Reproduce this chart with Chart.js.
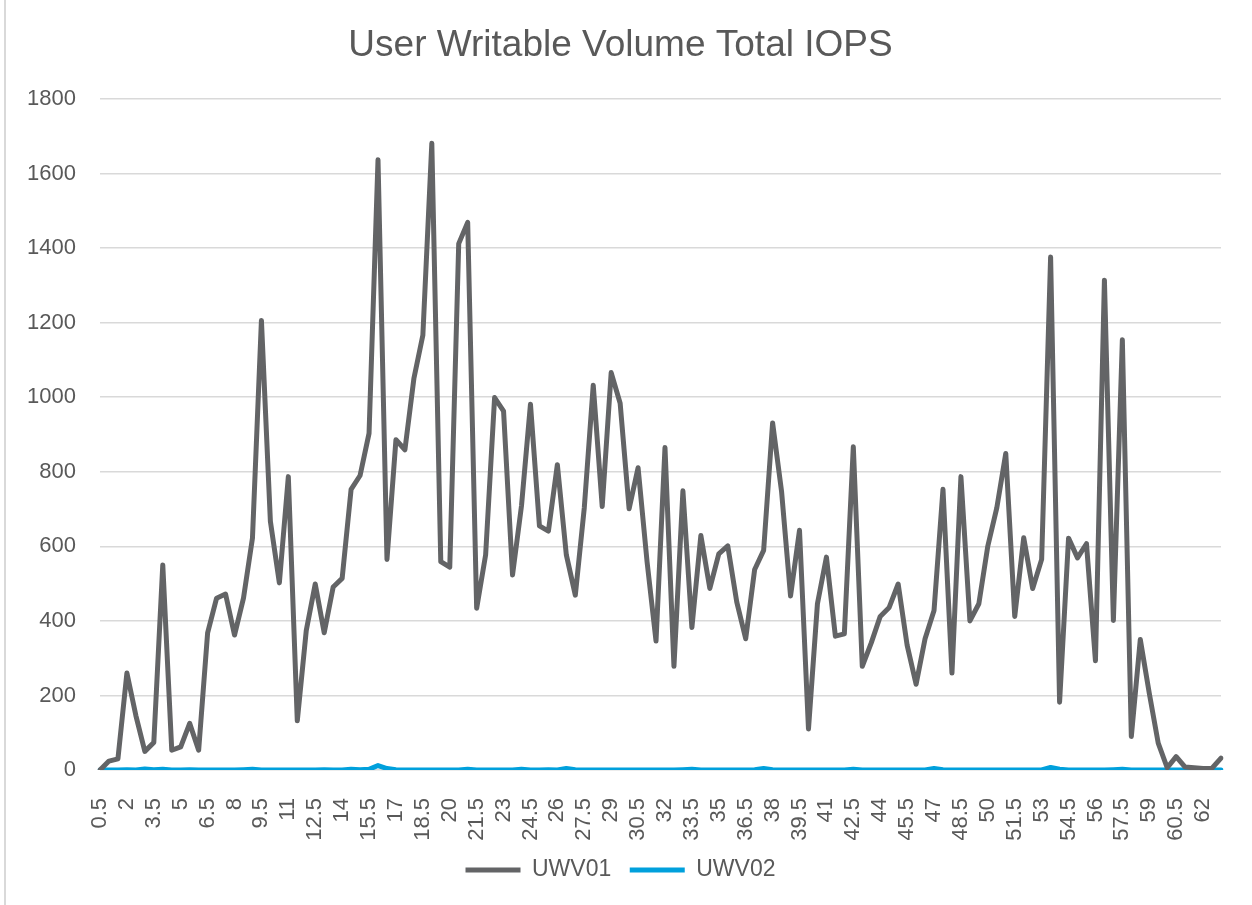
<!DOCTYPE html>
<html>
<head>
<meta charset="utf-8">
<title>User Writable Volume Total IOPS</title>
<script src="https://cdn.jsdelivr.net/npm/chart.js@4.4.1/dist/chart.umd.min.js"></script>
<style>
    html, body { margin: 0; padding: 0; background: #ffffff; }
    #wrap { position: relative; width: 1252px; height: 905px; }
    #frame { position: absolute; left: 4px; top: 0; width: 2px; height: 905px; background: #d9d9d9; }
</style>
</head>
<body>
<div id="wrap">
    <canvas id="lineChart" width="1252" height="905"></canvas>
    <div id="frame"></div>
</div>
<script>
// elapsed time (x categories)
const label_values = [
    '0.5','1','1.5','2','2.5','3','3.5','4','4.5','5',
    '5.5','6','6.5','7','7.5','8','8.5','9','9.5','10',
    '10.5','11','11.5','12','12.5','13','13.5','14','14.5','15',
    '15.5','16','16.5','17','17.5','18','18.5','19','19.5','20',
    '20.5','21','21.5','22','22.5','23','23.5','24','24.5','25',
    '25.5','26','26.5','27','27.5','28','28.5','29','29.5','30',
    '30.5','31','31.5','32','32.5','33','33.5','34','34.5','35',
    '35.5','36','36.5','37','37.5','38','38.5','39','39.5','40',
    '40.5','41','41.5','42','42.5','43','43.5','44','44.5','45',
    '45.5','46','46.5','47','47.5','48','48.5','49','49.5','50',
    '50.5','51','51.5','52','52.5','53','53.5','54','54.5','55',
    '55.5','56','56.5','57','57.5','58','58.5','59','59.5','60',
    '60.5','61','61.5','62','62.5','63'
];

const uwv01 = [
    0, 24, 30, 260, 146, 50, 74, 550, 53, 62,
    125, 53, 368, 461, 472, 362, 461, 622, 1206, 667,
    502, 787, 132, 374, 499, 368, 491, 514, 753, 790,
    903, 1637, 565, 886, 859, 1050, 1166, 1681, 559, 544,
    1412, 1469, 434, 577, 999, 963, 523, 709, 981, 655,
    641, 819, 577, 469, 703, 1032, 707, 1066, 984, 701,
    811, 559, 346, 865, 278, 749, 382, 629, 487, 580,
    601, 451, 352, 538, 589, 931, 747, 467, 643, 110,
    446, 571, 359, 365, 867, 278, 341, 412, 436, 499,
    335, 230, 352, 428, 753, 260, 787, 400, 446, 601,
    703, 849, 412, 623, 487, 565, 1376, 182, 622, 569,
    607, 293, 1314, 401, 1154, 90, 350, 206, 72, 6,
    36, 8, 6, 4, 5, 32
];

const uwv02 = [
    0, 0, 0, 1, 0, 3, 1, 2, 0, 0,
    1, 0, 0, 0, 0, 0, 1, 2, 0, 0,
    0, 0, 0, 0, 0, 1, 0, 0, 2, 1,
    2, 12, 4, 1, 0, 0, 0, 0, 0, 0,
    0, 2, 0, 0, 0, 0, 0, 2, 0, 0,
    1, 0, 4, 1, 0, 0, 0, 0, 0, 0,
    0, 0, 0, 0, 0, 1, 2, 0, 0, 0,
    0, 0, 0, 1, 4, 1, 0, 0, 0, 0,
    0, 0, 0, 0, 2, 0, 0, 0, 0, 0,
    0, 0, 0, 4, 1, 0, 0, 0, 0, 0,
    0, 0, 0, 0, 0, 0, 7, 2, 0, 0,
    0, 0, 0, 1, 2, 0, 0, 0, 0, 0,
    0, 0, 0, 0, 0, 0
];

const y_ticks = [0, 200, 400, 600, 800, 1000, 1200, 1400, 1600, 1800];

const font_family = "'Liberation Sans', Arial, sans-serif";
const text_color = '#595959';
const grid_color = '#d9d9d9';

function makeDataset(label, data, color) {
    return {
        label: label,
        data: data,
        borderColor: color,
        backgroundColor: color,
        borderWidth: 5,
        borderJoinStyle: 'round',
        borderCapStyle: 'round',
        pointRadius: 0,
        pointHoverRadius: 0,
        tension: 0,
        fill: false
    };
}

function lineChart(labels, result) {
    new Chart(document.getElementById('lineChart'), {
        type: 'line',
        data: {
            labels: labels,
            datasets: result
        },
        options: {
            responsive: false,
            animation: false,
            layout: {
                padding: { left: 20, right: 31, top: 0, bottom: 13.5 }
            },
            plugins: {
                title: {
                    display: true,
                    text: 'User Writable Volume Total IOPS',
                    color: text_color,
                    font: { family: font_family, size: 37, weight: 'normal' },
                    padding: { top: 24, bottom: 30.6 }
                },
                legend: {
                    position: 'bottom',
                    labels: {
                        color: text_color,
                        font: { family: font_family, size: 23 },
                        usePointStyle: true,
                        pointStyle: 'line',
                        pointStyleWidth: 55,
                        padding: 18.5
                    }
                },
                tooltip: { enabled: false }
            },
            scales: {
                x: {
                    offset: false,
                    grid: { display: false },
                    border: { display: false },
                    ticks: {
                        autoSkip: false,
                        minRotation: 90,
                        maxRotation: 90,
                        padding: 20,
                        color: text_color,
                        font: { family: font_family, size: 22 },
                        callback: function(value, index) {
                            return index % 3 === 0 ? labels[index] : '';
                        }
                    },
                    afterFit: function(scale) {
                        scale.height = 70;
                        scale.paddingLeft = 0;
                        scale.paddingRight = 0;
                    }
                },
                y: {
                    min: y_ticks[0],
                    max: y_ticks[y_ticks.length - 1],
                    afterBuildTicks: function(scale) {
                        scale.ticks = y_ticks.map(v => ({ value: v }));
                    },
                    grid: {
                        color: grid_color,
                        lineWidth: 1.5,
                        drawTicks: false
                    },
                    border: { display: false },
                    ticks: {
                        padding: 24,
                        color: text_color,
                        font: { family: font_family, size: 22 },
                        callback: function(value) {
                            return String(value);
                        }
                    },
                    afterFit: function(scale) {
                        scale.width = 80;
                    }
                }
            }
        }
    });
}

let result = [];
result.push(makeDataset('UWV01', uwv01, '#636466'));
result.push(makeDataset('UWV02', uwv02, '#00a0dc'));

lineChart(label_values, result);
</script>
</body>
</html>
